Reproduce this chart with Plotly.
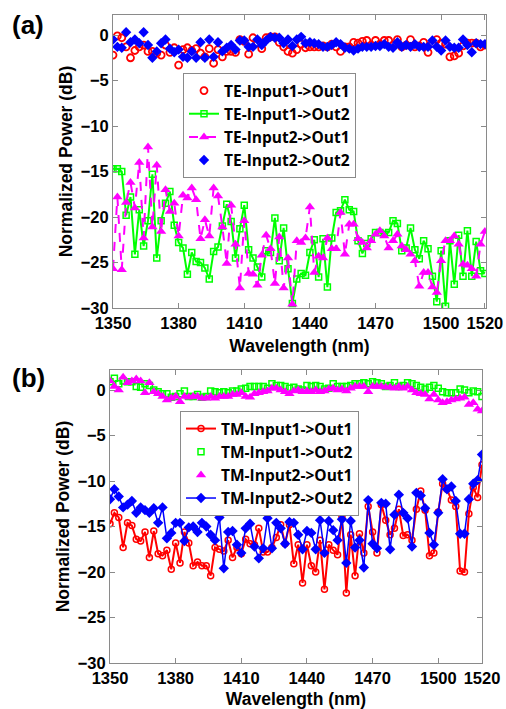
import plotly.graph_objects as go

wavelength = list(range(1350, 1521, 2))

# Panel (a): TE
te_in1_out1 = [-2.2, -0.1, -0.3, -1.3, -2.5, -1.7, -1.3, -1.1, -1.8, -1.8, -2.0, -2.2, -1.1, -1.9, -1.4, -3.3, -1.6,
               -1.4, -1.7, -1.5, -2.0, -2.4, -1.5, -3.1, -1.6, -2.4, -1.8, -1.8, -1.9, -0.5, -0.7, -2.1, -0.3, -0.9,
               -1.5, -0.3, -0.2, -0.2, -0.8, -1.3, -1.8, -2.0, -1.6, -1.0, -1.4, -1.3, -1.3, -1.3, -1.2, -1.3, -1.0,
               -1.3, -1.8, -1.3, -1.3, -0.8, -0.9, -0.7, -0.6, -1.1, -0.6, -1.0, -0.6, -0.6, -1.1, -0.5, -1.3, -1.1,
               -0.5, -1.3, -1.2, -0.8, -1.9, -0.9, -0.5, -0.9, -1.0, -2.4, -2.3, -2.0, -1.2, -0.9, -0.9, -0.9, -1.3, -1.1]
te_in1_out2 = [-14.7, -14.7, -15.0, -19.8, -17.8, -24.1, -19.2, -23.2, -20.4, -15.3, -24.5, -20.4, -18.5, -17.2, -20.9,
               -22.8, -23.4, -26.3, -23.9, -24.9, -25.0, -25.6, -26.8, -23.8, -23.3, -21.0, -18.6, -20.5, -24.5, -21.3,
               -18.7, -23.6, -24.5, -25.5, -26.6, -23.7, -23.9, -20.1, -24.8, -21.2, -25.7, -29.5,
               -26.8, -26.2, -26.4, -23.9, -22.5, -26.6, -22.4, -27.7, -22.3, -19.5, -19.3, -18.1, -19.2, -19.4, -22.6,
               -24.0, -22.9, -22.4, -21.7, -21.7, -21.9, -21.7, -20.4, -20.7, -23.7, -23.4, -21.2, -23.6, -24.6, -22.6,
               -23.5, -26.5, -29.3, -23.7, -29.8, -22.6, -27.4, -22.0, -26.5, -21.5, -26.5, -22.7, -25.9, -26.2]
te_in2_out1 = [-25.7, -17.8, -25.8, -18.4, -16.2, -19.0, -14.0, -22.3, -12.3, -21.1, -14.3, -21.6, -17.0,
               -19.4, -18.5, -22.1, -17.6, -17.9, -16.8, -18.1, -22.4, -20.3, -22.1, -16.8, -17.7, -21.1, -25.1, -18.7,
               -23.0, -27.8, -20.4, -26.2, -26.3, -27.5,
               -24.2, -22.0, -23.5, -27.3, -22.2, -27.8, -24.5, -29.6,
               -22.6, -22.8, -22.3, -18.9, -26.1, -24.3, -24.5, -22.3, -23.5, -23.5, -19.5, -24.1, -20.8, -20.8, -22.4,
               -22.8, -23.4, -22.6, -21.9, -21.5, -22.1, -23.4, -22.6, -21.9, -23.2, -23.6, -24.1, -24.8, -27.6, -26.1,
               -26.1, -27.7, -28.3, -24.8, -22.6, -22.6, -22.1, -23.0, -25.2, -25.3, -25.7, -26.5, -23.0, -21.6]
te_in2_out2 = [-0.5, -1.3, -1.4, 0.3, -0.8, -0.5, -0.9, 0.3, -1.1, -2.5, -1.8, -0.9, -0.5, -1.5, -1.9, -1.6, -2.4,
               -2.5, -1.8, -2.5, -0.8, -2.5, -0.5, -2.4, -0.8, -1.8, -1.4, -1.1, -1.6, -0.6, -0.6, -1.3, -1.3, -0.5,
               -1.1, -0.6, -0.2, -0.3, -0.3, -0.9, -0.5, -1.2, -0.5, -0.2, -0.9, -0.8, -0.9, -1.0, -1.3, -1.3, -1.1,
               -0.8, -1.0, -1.4, -1.5, -1.7, -1.5, -1.3, -1.3, -1.3, -1.2, -1.2, -1.0, -1.3, -1.4, -0.8, -1.3, -1.1,
               -1.3, -1.0, -1.3, -1.3, -1.3, -0.6, -1.3, -1.7, -0.6, -1.3, -1.4, -1.4, -0.5, -1.1, -1.9, -0.9, -1.0, -1.0]

# Panel (b): TM
tm_in1_out1 = [-14.7, -13.5, -14.0, -17.3, -14.6, -14.9, -16.4, -16.6, -15.6, -18.4, -15.5, -18.0, -18.2, -17.6, -19.7,
               -16.8, -19.0, -15.6, -16.8, -19.3, -18.9, -19.3, -19.3, -20.4, -17.3, -17.5, -17.7, -16.5, -18.4, -17.3,
               -18.0, -16.4, -16.9, -17.0, -15.2, -17.8, -17.8, -17.3, -16.2, -14.8, -16.9, -14.8, -19.1,
               -17.0, -21.2, -17.0, -19.3, -20.0, -16.5, -21.9, -17.0, -17.6, -18.1, -13.9, -22.3, -15.9, -20.4, -15.8,
               -17.9, -12.8, -15.6, -17.9, -12.6, -14.3, -15.9, -15.2, -13.1, -16.0, -15.9, -16.5, -13.1, -11.1, -13.2,
               -18.2, -17.9, -13.4, -10.3, -10.9, -12.1, -12.8, -19.9, -20.0, -13.6, -10.7, -11.8, -8.2]
tm_in1_out2 = [0.9, 1.3, 0.7, 1.0, 0.9, 0.9, 0.4, 0.3, 0.7, 0.5, 0.0, -0.2, -0.4, -0.4, -0.8, -0.7, -0.4, -0.1, -0.7,
               -0.7, -0.5, -0.8, -0.7, -0.1, -0.2, -0.3, -0.2, -0.3, -0.1, -0.1, 0.1, 0.2, 0.4, 0.4,
               0.4, 0.4, 0.2, 0.7, 0.5, 0.5, 0.4, 0.2, 0.3, 0.1, 0.0, 0.5, 0.4, 0.5, 0.4, 0.1, 0.2, 0.7, 0.4, 0.4, 0.4,
               0.5, 0.7, 0.7, 0.8, 0.7, 0.9, 0.8, 0.7, 0.4, 0.5, 0.8, 0.4, 0.5, 0.8, 0.7, 0.5, 0.3, 0.1, 0.3, 0.5, 0.2,
               -0.2, -0.3, -0.3, -0.3, 0.1, 0.0, -0.3, -0.1, -0.2, -0.7]
tm_in2_out1 = [1.0, 0.4, 0.0, 1.4, 0.8, 1.0, 1.2, 1.0, -0.3, 0.8, -0.2, -0.4, -0.7, -1.1, -0.9, -0.7, -1.3, -0.7, -0.8,
               -0.7, -0.7, -0.9, -0.9, -0.7, -0.9, -0.7, -0.7, -0.7, -0.5, -0.5, -0.3, -0.7, -0.8, -0.4,
               -0.3, -0.2, -0.1, 0.2, 0.2, 0.0, -0.2, -0.4, -0.1, 0.0, -0.2, -0.1, -0.2, 0.0, -0.2, -0.1, 0.1, 0.2, 0.0,
               0.1, -0.1, 0.2, 0.4, 0.4, 0.4, -0.2, 0.4, 0.4, 0.4, 0.3, 0.3, 0.2, 0.4, 0.2, 0.4, 0.0, -0.3, -0.4, -0.5,
               -1.0, -0.5, -1.1, -1.4, -1.3, -1.1, -1.0, -0.9, -0.8, -1.6, -1.4, -2.1, -2.3]
tm_in2_out2 = [-12.0, -10.9, -11.7, -12.9, -12.6, -12.2, -13.5, -12.9, -13.2, -13.5, -13.0, -14.6, -12.9, -16.3, -15.7,
               -14.6, -14.6, -16.6, -15.1, -15.0, -15.6, -14.6, -15.0, -15.9, -16.5, -14.0, -19.6, -15.6, -15.5, -17.0,
               -17.9, -15.2, -14.7, -17.2, -18.5, -17.4, -14.1, -17.4, -14.6, -15.2, -16.9, -14.5, -14.6,
               -15.9, -17.5, -15.5, -15.7, -17.5, -14.3, -17.9, -14.4, -15.4, -16.5, -14.2, -19.0, -14.4, -17.3, -16.5,
               -19.5, -12.1, -16.9, -17.4, -12.4, -12.5, -17.5, -13.7, -11.5, -13.5, -14.1, -17.2, -11.3, -11.6, -13.0,
               -15.7, -17.0, -13.5, -9.8, -10.9, -10.6, -12.2, -15.8, -15.8, -12.0, -10.3, -9.9, -7.1]

x_ticks = [1350, 1380, 1410, 1440, 1470, 1500, 1520]
y_ticks = [0, -5, -10, -15, -20, -25, -30]
y_tick_text = ["0", "\u22125", "\u221210", "\u221215", "\u221220", "\u221225", "\u221230"]

RED, GREEN, MAG, BLUE = "#FF0000", "#00FF00", "#FF00FF", "#0000FF"
FONT = "Liberation Sans"

fig = go.Figure()

# ---- Panel (a)
fig.add_trace(go.Scatter(x=wavelength, y=te_in1_out1, mode="markers", name="TE-Input1->Out1",
                         marker=dict(symbol="circle-open", size=7, color=RED, line=dict(width=1.8)),
                         xaxis="x", yaxis="y", legend="legend"))
fig.add_trace(go.Scatter(x=wavelength, y=te_in1_out2, mode="lines+markers", name="TE-Input1->Out2",
                         line=dict(color=GREEN, width=2),
                         marker=dict(symbol="square-open", size=6, color=GREEN, line=dict(width=1.5)),
                         xaxis="x", yaxis="y", legend="legend"))
fig.add_trace(go.Scatter(x=wavelength, y=te_in2_out1, mode="lines+markers", name="TE-Input2->Out1",
                         line=dict(color=MAG, width=2, dash="dash"),
                         marker=dict(symbol="triangle-up", size=9, color=MAG),
                         xaxis="x", yaxis="y", legend="legend"))
fig.add_trace(go.Scatter(x=wavelength, y=te_in2_out2, mode="markers", name="TE-Input2->Out2",
                         marker=dict(symbol="diamond", size=8, color=BLUE),
                         xaxis="x", yaxis="y", legend="legend"))

# ---- Panel (b)
fig.add_trace(go.Scatter(x=wavelength, y=tm_in1_out1, mode="lines+markers", name="TM-Input1->Out1",
                         line=dict(color=RED, width=2),
                         marker=dict(symbol="circle-open", size=6, color=RED, line=dict(width=1.5)),
                         xaxis="x2", yaxis="y2", legend="legend2"))
fig.add_trace(go.Scatter(x=wavelength, y=tm_in1_out2, mode="markers", name="TM-Input1->Out2",
                         marker=dict(symbol="square-open", size=6, color=GREEN, line=dict(width=1.5)),
                         xaxis="x2", yaxis="y2", legend="legend2"))
fig.add_trace(go.Scatter(x=wavelength, y=tm_in2_out1, mode="markers", name="TM-Input2->Out1",
                         marker=dict(symbol="triangle-up", size=9, color=MAG),
                         xaxis="x2", yaxis="y2", legend="legend2"))
fig.add_trace(go.Scatter(x=wavelength, y=tm_in2_out2, mode="lines+markers", name="TM-Input2->Out2",
                         line=dict(color=BLUE, width=1.5),
                         marker=dict(symbol="diamond", size=8, color=BLUE),
                         xaxis="x2", yaxis="y2", legend="legend2"))

W, H = 506, 709
tickfont = dict(family=FONT, size=16.5, color="black", weight="bold")
titlefont = dict(family=FONT, size=17.5, color="black", weight="bold")
axis_common = dict(showline=True, linecolor="#8a8a8a", linewidth=1, mirror="ticks", ticks="inside",
                   ticklen=5, tickcolor="#8a8a8a", showgrid=False, zeroline=False, tickfont=tickfont,
                   automargin=False)

def xax(domain, rng, anchor):
    return dict(axis_common, domain=domain, range=rng, anchor=anchor, tickmode="array", tickvals=x_ticks,
                title=dict(text="Wavelength (nm)", font=titlefont, standoff=8))

def yax(domain, anchor):
    return dict(axis_common, domain=domain, range=[-30, 2.2], anchor=anchor, tickmode="array",
                tickvals=y_ticks, ticktext=y_tick_text,
                title=dict(text="Normalized Power (dB)", font=titlefont, standoff=3))

legend_common = dict(bgcolor="white", bordercolor="#8a8a8a", borderwidth=1, xanchor="left", yanchor="top",
                     font=dict(family="Open Sans", size=15.5, color="black", weight="bold"), tracegroupgap=0)

fig.update_layout(
    width=W, height=H, margin=dict(l=0, r=0, t=0, b=0, autoexpand=False),
    paper_bgcolor="white", plot_bgcolor="white", showlegend=True,
    xaxis=xax([113 / W, 486 / W], [1350, 1520.5], "y"),
    yaxis=yax([1 - 308 / H, 1 - 15 / H], "x"),
    xaxis2=xax([110 / W, 482 / W], [1350, 1520], "y2"),
    yaxis2=yax([1 - 663 / H, 1 - 370 / H], "x2"),
    legend=dict(legend_common, x=183 / W, y=1 - 73 / H),
    legend2=dict(legend_common, x=180 / W, y=1 - 411 / H),
    annotations=[
        dict(text="(a)", x=10 / W, y=1 - 25 / H, xref="paper", yref="paper", xanchor="left", yanchor="middle",
             showarrow=False, font=dict(family=FONT, size=26, color="black", weight="bold")),
        dict(text="(b)", x=10 / W, y=1 - 378 / H, xref="paper", yref="paper", xanchor="left", yanchor="middle",
             showarrow=False, font=dict(family=FONT, size=26, color="black", weight="bold")),
    ],
)

fig.write_html("out.html")
